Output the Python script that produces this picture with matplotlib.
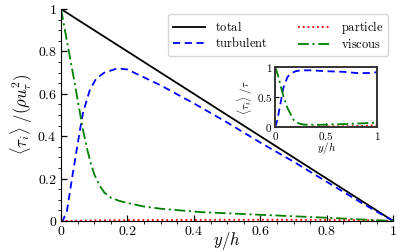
import numpy as np
import matplotlib
matplotlib.use('Agg')
import matplotlib.pyplot as plt
from matplotlib.ticker import MultipleLocator, FuncFormatter

plt.rcParams['mathtext.fontset'] = 'cm'
plt.rcParams['font.family'] = 'serif'
plt.rcParams['font.serif'] = ['cmr10', 'DejaVu Serif']
plt.rcParams['axes.formatter.use_mathtext'] = True

# main panel: shear stress contributions
y_total = [0.0, 1.0]
tau_total = [1.0, 0.0]

y_turb = [0.0, 0.005, 0.018, 0.035, 0.057, 0.066, 0.087, 0.105, 0.13, 0.17, 0.2,
          0.3, 0.4, 0.5, 0.6, 0.7, 0.8, 0.9, 1.0]
tau_turb = [0.0, 0.0, 0.05, 0.22, 0.43, 0.51, 0.62, 0.67, 0.70, 0.72, 0.715,
            0.64, 0.555, 0.465, 0.37, 0.28, 0.185, 0.09, 0.0]

y_visc = [0.0, 0.02, 0.04, 0.066, 0.08, 0.09, 0.1, 0.117, 0.13, 0.15, 0.175, 0.2,
          0.25, 0.3, 0.42, 0.52, 0.62, 0.72, 0.82, 0.92, 1.0]
tau_visc = [1.0, 0.83, 0.66, 0.43, 0.33, 0.27, 0.22, 0.165, 0.135, 0.11, 0.095, 0.085,
            0.068, 0.058, 0.042, 0.035, 0.028, 0.021, 0.014, 0.006, 0.0]

y_part = [0.0, 0.1, 0.3, 0.5, 0.7, 0.9, 1.0]
tau_part = [0.0, 0.003, 0.005, 0.006, 0.006, 0.004, 0.0]

# inset: contributions normalised by local total stress
yi_turb = [0.0, 0.02, 0.05, 0.08, 0.12, 0.15, 0.2, 0.25, 0.35, 0.5, 0.67, 0.8, 0.96, 1.0]
ri_turb = [0.0, 0.1, 0.37, 0.65, 0.83, 0.89, 0.93, 0.945, 0.945, 0.93, 0.92, 0.9, 0.9, 0.92]

yi_visc = [0.0, 0.03, 0.07, 0.12, 0.18, 0.23, 0.28, 0.4, 0.5, 0.6, 0.7, 0.8, 0.9, 1.0]
ri_visc = [1.0, 0.85, 0.58, 0.32, 0.12, 0.06, 0.04, 0.035, 0.04, 0.045, 0.05, 0.058, 0.065, 0.075]

yi_part = [0.0, 0.2, 0.4, 0.6, 0.8, 0.9, 1.0]
ri_part = [0.0, 0.003, 0.006, 0.01, 0.016, 0.022, 0.03]

fmt = FuncFormatter(lambda v, pos: r'$%g$' % round(v, 3))

fig = plt.figure(figsize=(4.07, 2.52), dpi=100)
ax = fig.add_axes([0.150, 0.123, 0.816, 0.841])

ax.plot(y_total, tau_total, color='k', lw=1.3, label=r'$\mathrm{total}$')
ax.plot(y_turb, tau_turb, color='b', lw=1.3, ls=(0, (4, 2.5)), label=r'$\mathrm{turbulent}$')
ax.plot(y_part, tau_part, color='r', lw=1.3, ls=':', label=r'$\mathrm{particle}$')
ax.plot(y_visc, tau_visc, color='g', lw=1.3, ls=(0, (6, 2, 1.2, 2)), label=r'$\mathrm{viscous}$')

ax.set_xlim(0, 1)
ax.set_ylim(0, 1)
ax.spines['top'].set_visible(False)
ax.spines['right'].set_visible(False)
ax.xaxis.set_major_locator(MultipleLocator(0.2))
ax.yaxis.set_major_locator(MultipleLocator(0.2))
ax.xaxis.set_minor_locator(MultipleLocator(0.05))
ax.yaxis.set_minor_locator(MultipleLocator(0.05))
ax.xaxis.set_major_formatter(fmt)
ax.yaxis.set_major_formatter(fmt)
ax.tick_params(which='major', direction='in', length=4, width=0.9, labelsize=10, pad=3)
ax.tick_params(which='minor', direction='out', length=2.5, width=0.6)
ax.set_xlabel(r'$y/h$', fontsize=12, labelpad=-6)
ax.set_ylabel(r'$\langle \tau_i \rangle\ /(\rho u_\tau^2)$', fontsize=12, labelpad=2)

ax.legend(loc='upper right', ncol=2, fontsize=9, frameon=True, fancybox=True,
          edgecolor='#cccccc', handlelength=2.6, columnspacing=2.4,
          borderaxespad=0.4, labelspacing=0.15, handletextpad=0.8)

# inset
ins = fig.add_axes([0.676, 0.496, 0.251, 0.238])
ins.plot(yi_part, ri_part, color='r', lw=1.3, ls=':')
ins.plot(yi_turb, ri_turb, color='b', lw=1.3, ls=(0, (4, 2.5)))
ins.plot(yi_visc, ri_visc, color='g', lw=1.3, ls=(0, (6, 2, 1.2, 2)))
ins.set_xlim(0, 1)
ins.set_ylim(0, 1)
ins.set_xticks([0, 0.5, 1])
ins.set_yticks([0, 0.5, 1])
ins.xaxis.set_major_formatter(fmt)
ins.yaxis.set_major_formatter(fmt)
ins.tick_params(direction='in', length=3, labelsize=8, pad=2)
for s in ins.spines.values():
    s.set_linewidth(1.4)
    s.set_color('#333333')
ins.set_xlabel(r'$y/h$', fontsize=8, labelpad=-1)
ins.set_ylabel(r'$\langle \tau_i \rangle\ /\tau$', fontsize=8, labelpad=1)

fig.savefig('out.png', dpi=100)
